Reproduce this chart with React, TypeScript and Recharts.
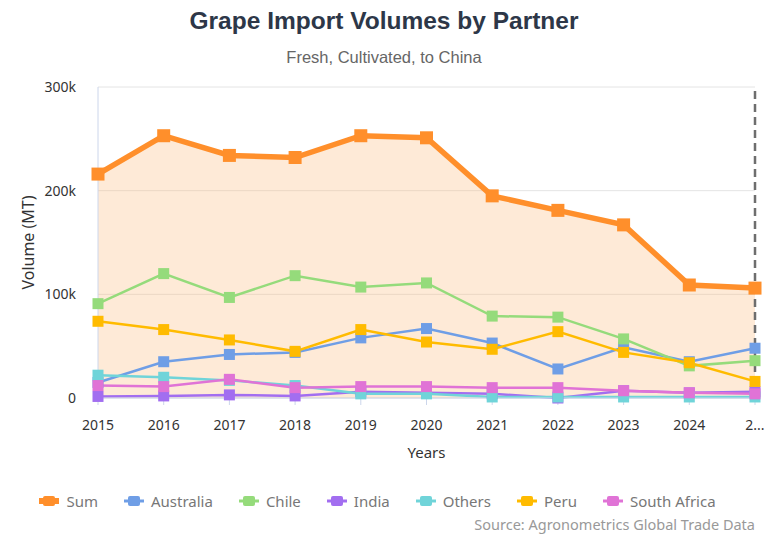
import React from 'react';
import {
  ComposedChart,
  Area,
  Line,
  XAxis,
  YAxis,
  CartesianGrid,
  Legend,
  ReferenceLine
} from 'recharts';

const years = ['2015', '2016', '2017', '2018', '2019', '2020', '2021', '2022', '2023', '2024', '2025'];
const sum = [216000, 253000, 234000, 232000, 253000, 251000, 195000, 181000, 167000, 109000, 106000];
const australia = [15000, 35000, 42000, 44000, 58000, 67000, 53000, 28000, 49000, 35000, 48000];
const chile = [91000, 120000, 97000, 118000, 107000, 111000, 79000, 78000, 57000, 31000, 36000];
const india = [1500, 2000, 3000, 2000, 6000, 5000, 4000, 0, 7000, 5000, 6000];
const others = [22000, 20000, 17000, 12000, 4000, 4000, 1000, 1000, 1000, 1000, 1000];
const peru = [74000, 66000, 56000, 45000, 66000, 54000, 47000, 64000, 44000, 34000, 16000];
const southAfrica = [12000, 11000, 18000, 10000, 11000, 11000, 10000, 10000, 7000, 5000, 4000];
const yTicks = [0, 100000, 200000, 300000];

const series = [
  { key: 'Sum', color: '#ff8f2b' },
  { key: 'Australia', color: '#6f9ee6' },
  { key: 'Chile', color: '#95db7b' },
  { key: 'India', color: '#a26ef0' },
  { key: 'Others', color: '#70d4d9' },
  { key: 'Peru', color: '#ffbb00' },
  { key: 'South Africa', color: '#e073d6' }
];

const data = years.map((year, i) => ({
  year,
  Sum: sum[i],
  Australia: australia[i],
  Chile: chile[i],
  India: india[i],
  Others: others[i],
  Peru: peru[i],
  'South Africa': southAfrica[i]
}));

const font = '"Noto Sans", "Open Sans", sans-serif';

const squareDot = (color: string, size: number) => (props: any) => {
  const { cx, cy, index } = props;
  if (cx == null || cy == null) return <g key={index} />;
  return (
    <rect
      key={index}
      x={cx - size / 2}
      y={cy - size / 2}
      width={size}
      height={size}
      fill={color}
    />
  );
};

function LegendContent() {
  return (
    <div style={{ display: 'flex', justifyContent: 'center', gap: 26, fontFamily: font, fontSize: 15, color: '#777' }}>
      {series.map(s => (
        <div key={s.key} style={{ display: 'flex', alignItems: 'center', gap: 7 }}>
          <svg width={20} height={12}>
            <line x1={0} y1={6} x2={20} y2={6} stroke={s.color} strokeWidth={s.key === 'Sum' ? 6 : 3} />
            <rect x={4} y={1} width={12} height={10} rx={2} fill={s.color} />
          </svg>
          <span>{s.key}</span>
        </div>
      ))}
    </div>
  );
}

export default function App() {
  return (
    <div style={{ position: 'relative', width: 768, height: 538, background: '#fff' }}>
      <style>{'body{margin:0}'}</style>
      <div style={{ position: 'absolute', top: 7, left: 0, width: 768, textAlign: 'center', fontFamily: '"Liberation Sans", Arial, sans-serif', fontWeight: 700, fontSize: 24.5, color: '#2d3748' }}>
        Grape Import Volumes by Partner
      </div>
      <div style={{ position: 'absolute', top: 48, left: 0, width: 768, textAlign: 'center', fontFamily: '"Liberation Sans", Arial, sans-serif', fontSize: 16.5, color: '#666' }}>
        Fresh, Cultivated, to China
      </div>
      <ComposedChart
        width={768}
        height={538}
        data={data}
        margin={{ top: 87, right: 13, bottom: 0, left: 0 }}
        style={{ fontFamily: font }}
      >
        <CartesianGrid vertical={false} stroke="#e4e4e4" />
        <XAxis
          dataKey="year"
          scale="point"
          padding={{ left: 0, right: 0 }}
          height={120}
          tick={{ fill: '#333', fontSize: 14 }}
          tickSize={7}
          tickMargin={15}
          tickLine={{ stroke: '#ccd6eb' }}
          axisLine={{ stroke: '#ccd6eb' }}
          interval={0}
          tickFormatter={(v: string) => (v === '2025' ? '2...' : v)}
          label={{ value: 'Years', position: 'insideTop', offset: 49, fill: '#333', fontSize: 15 }}
        />
        <YAxis
          width={98}
          domain={[0, 300000]}
          ticks={yTicks}
          tickFormatter={(v: number) => (v === 0 ? '0' : `${v / 1000}k`)}
          tick={{ fill: '#333', fontSize: 14 }}
          tickLine={false}
          tickMargin={16}
          axisLine={{ stroke: '#ccd6eb' }}
          label={{ value: 'Volume (MT)', angle: -90, position: 'insideLeft', offset: 28, fill: '#333', fontSize: 16, style: { textAnchor: 'middle' } }}
        />
        <Legend
          verticalAlign="bottom"
          content={() => <LegendContent />}
          wrapperStyle={{ bottom: 27 }}
        />
        <Area
          dataKey="Sum"
          stroke="#ff8f2b"
          strokeWidth={5.5}
          fill="#fbb97a"
          fillOpacity={0.3}
          dot={squareDot('#ff8f2b', 13)}
          activeDot={false}
          isAnimationActive={false}
        />
        {series.slice(1).map(s => (
          <Line
            key={s.key}
            dataKey={s.key}
            stroke={s.color}
            strokeWidth={2.5}
            dot={squareDot(s.color, 11)}
            activeDot={false}
            isAnimationActive={false}
          />
        ))}
        <ReferenceLine x="2025" stroke="#6e6e6e" strokeWidth={2.5} strokeDasharray="8 5" />
      </ComposedChart>
      <div style={{ position: 'absolute', top: 514, right: 13, fontFamily: font, fontSize: 14.5, color: '#999' }}>
        Source: Agronometrics Global Trade Data
      </div>
    </div>
  );
}
